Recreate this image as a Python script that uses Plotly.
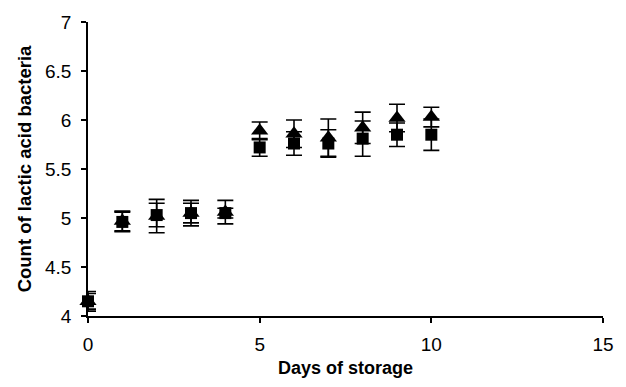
import plotly.graph_objects as go

days = [0, 1, 2, 3, 4, 5, 6, 7, 8, 9, 10]
square_vals = [4.15, 4.96, 5.03, 5.05, 5.05, 5.72, 5.76, 5.76, 5.81, 5.85, 5.85]
square_err = [0.10, 0.10, 0.12, 0.13, 0.05, 0.09, 0.12, 0.14, 0.18, 0.12, 0.16]
tri_vals = [4.15, 4.97, 5.02, 5.05, 5.06, 5.89, 5.86, 5.82, 5.92, 6.02, 6.03]
tri_err = [0.08, 0.10, 0.17, 0.10, 0.12, 0.09, 0.14, 0.19, 0.16, 0.14, 0.10]

fig = go.Figure()
fig.add_trace(go.Scatter(
    x=days, y=square_vals, mode="markers",
    marker=dict(symbol="square", size=12, color="black"),
    error_y=dict(type="data", array=square_err, visible=True, color="black", thickness=1.6, width=8),
    cliponaxis=False, showlegend=False))
fig.add_trace(go.Scatter(
    x=days, y=tri_vals, mode="markers",
    marker=dict(symbol="triangle-up", size=15, color="black"),
    error_y=dict(type="data", array=tri_err, visible=True, color="black", thickness=1.6, width=8),
    cliponaxis=False, showlegend=False))

font_family = "Liberation Sans, Arial, sans-serif"
fig.update_layout(
    width=626, height=387,
    margin=dict(l=88, r=14, t=20, b=67),
    plot_bgcolor="white", paper_bgcolor="white",
    font=dict(family=font_family, color="black", size=19),
    xaxis=dict(range=[0, 15], tickvals=[0, 5, 10, 15], showgrid=False, zeroline=False,
               showline=True, linecolor="black", linewidth=1.5,
               ticks="outside", ticklen=5, tickcolor="black", tickwidth=1.5,
               ticklabelstandoff=5,
               title=dict(text="<b>Days of storage</b>", font=dict(size=18), standoff=8)),
    yaxis=dict(range=[4, 7], tickvals=[4, 4.5, 5, 5.5, 6, 6.5, 7], ticktext=["4", "4.5", "5", "5.5", "6", "6.5", "7"],
               showgrid=False, zeroline=False,
               showline=True, linecolor="black", linewidth=1.5,
               ticks="outside", ticklen=5, tickcolor="black", tickwidth=1.5,
               ticklabelstandoff=6,
               title=dict(text="<b>Count of lactic acid bacteria</b>", font=dict(size=18.5), standoff=9)),
)
fig.write_html("out.html", config={"displayModeBar": False},
               post_script="document.body.style.margin='0';")
